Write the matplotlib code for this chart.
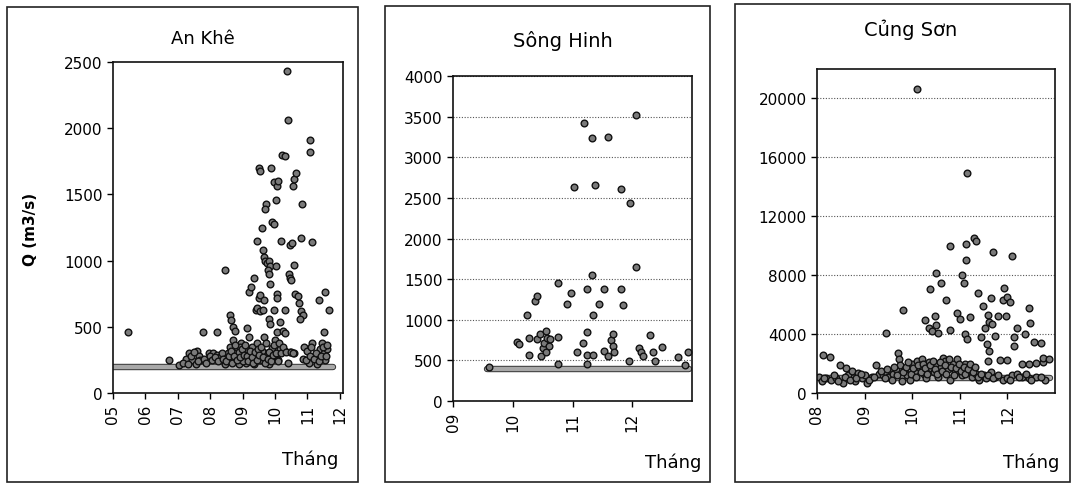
import numpy as np
import matplotlib
matplotlib.use("Agg")
from matplotlib import pyplot as plt
from matplotlib.patches import Rectangle
import matplotlib.patheffects as pe

plt.rcParams['font.family'] = ['DejaVu Sans']

# An Khe: (month, Q)
ankhe_month = [5.45, 6.72, 7.05, 7.78, 8.22, 8.45,
               10.38, 10.40, 11.07, 11.07, 10.22, 10.30,
               9.50, 9.53, 9.88, 9.98, 10.05, 10.08,
               10.55, 10.60, 10.65, 9.72, 9.70, 10.02, 10.82,
               9.92, 9.98, 9.60, 9.45, 10.20, 10.45, 10.52, 10.80, 11.15,
               9.62, 9.65, 9.70, 9.75, 9.80, 9.85, 9.78, 9.80, 10.02, 10.60,
               10.42, 10.45, 10.50, 9.35, 9.85, 9.20, 9.25, 9.50, 9.55, 9.65, 10.05, 10.05, 10.62, 10.70,
               9.40, 9.45, 9.55, 9.62, 9.98, 10.30, 10.75, 10.80, 10.85, 10.78, 11.35, 11.55, 11.68,
               8.62, 8.65, 8.70, 8.78, 9.15, 9.80, 9.85, 10.15, 10.05, 10.25, 10.30, 11.52,
               7.25, 7.35, 7.45, 7.60, 7.65, 7.70, 7.55, 7.95, 8.10, 8.20, 8.30, 8.45, 8.55, 8.60,
               8.65, 8.70, 8.80, 8.85, 8.90, 8.95, 9.00, 9.05, 9.10, 9.20, 9.30, 9.40, 9.45, 9.55,
               9.65, 9.75, 9.80, 9.90, 10.00, 10.05, 10.15, 10.30, 10.45, 10.60, 10.85, 10.90, 11.00,
               11.05, 11.15, 11.25, 11.30, 11.40, 11.45, 11.50, 11.55, 11.60,
               8.75, 8.82, 8.92, 9.02, 9.12, 9.35, 9.60, 9.85, 10.10, 10.40, 11.10, 11.35,
               7.15, 7.30, 7.40, 7.50, 7.62, 7.80, 7.88, 8.00, 8.05, 8.15, 8.25, 8.35, 8.40, 8.50,
               8.58, 8.63, 8.68, 8.72, 8.78, 8.83, 8.88, 8.93, 8.98, 9.03, 9.08, 9.13, 9.18, 9.23,
               9.28, 9.33, 9.38, 9.43, 9.48, 9.52, 9.58, 9.63, 9.68, 9.72, 9.78, 9.83, 9.88, 9.93,
               9.97, 10.02, 10.08, 10.12, 10.20, 10.25, 10.35, 10.50, 10.55, 10.95, 11.08, 11.20,
               11.28, 11.35, 11.42, 11.48, 11.58, 11.62]
ankhe_q = [460, 250, 210, 460, 460, 930,
           2430, 2060, 1910, 1820, 1800, 1790,
           1700, 1680, 1700, 1590, 1560, 1600,
           1560, 1620, 1660, 1430, 1390, 1460, 1430,
           1290, 1280, 1250, 1150, 1150, 1120, 1130, 1170, 1140,
           1080, 1030, 1000, 980, 1000, 960, 930, 900, 960, 970,
           900, 870, 850, 870, 820, 760, 800, 720, 740, 700, 750, 720, 750, 730,
           630, 640, 620, 630, 630, 630, 680, 620, 590, 560, 700, 760, 630,
           590, 550, 500, 470, 490, 560, 520, 540, 460, 470, 450, 460,
           260, 300, 250, 320, 280, 250, 220, 300, 300, 290, 270, 220, 300, 350,
           250, 400, 330, 290, 220, 380, 260, 310, 230, 420, 350, 280, 380, 250,
           420, 300, 220, 340, 400, 260, 330, 320, 310, 300, 260, 350, 320,
           230, 380, 270, 220, 330, 380, 300, 250, 330,
           300, 260, 350, 240, 330, 220, 320, 270, 250, 230, 350, 260,
           230, 220, 280, 310, 240, 260, 230, 280, 250, 270, 240, 300, 260, 240,
           280, 320, 230, 280, 360, 250, 310, 270, 330, 290, 360, 280, 240, 320,
           270, 230, 310, 250, 330, 290, 350, 270, 230, 380, 260, 310, 240, 290,
           360, 300, 240, 380, 300, 350, 310, 310, 300, 250, 280, 260,
           300, 240, 280, 350, 280, 360]
ankhe_base = 200

# Song Hinh: (month, Q)
songhinh_month = [9.60, 10.07, 10.10, 10.24, 10.27, 10.27, 10.38, 10.40, 10.40, 10.45,
                  10.48, 10.50, 10.52, 10.55, 10.55, 10.58, 10.60, 10.62, 10.76, 10.76,
                  10.76, 10.91, 10.98, 11.03, 11.08, 11.17, 11.20, 11.25, 11.25, 11.25,
                  11.25, 11.32, 11.32, 11.35, 11.37, 11.35, 11.45, 11.52, 11.53, 11.59,
                  11.60, 11.65, 11.67, 11.68, 11.70, 11.82, 11.82, 11.84, 11.94, 11.96,
                  12.06, 12.06, 12.12, 12.15, 12.18, 12.30, 12.35, 12.38, 12.50, 12.76,
                  12.88, 12.93]
songhinh_q = [420, 730, 700, 1060, 770, 570, 1230, 1290, 760, 820,
              560, 650, 720, 860, 600, 780, 680, 760, 1450, 790,
              450, 1200, 1330, 2630, 600, 710, 3420, 1380, 850, 570,
              450, 3235, 1550, 1060, 2660, 570, 1200, 1380, 620, 3250,
              560, 750, 820, 680, 600, 2610, 1380, 1180, 490, 2440,
              3520, 1650, 650, 600, 550, 810, 600, 490, 670, 540,
              440, 600]
songhinh_base = 400

# Cung Son: (month, Q)
cungson_month = [10.10, 11.15, 10.80, 11.14, 11.30, 11.35, 11.70, 12.10, 11.14,
                 10.50, 11.05, 11.08, 10.60, 10.38, 10.72, 9.81, 11.38, 11.65, 11.92,
                 11.90, 12.00, 12.05, 12.45, 11.48, 9.45, 10.27, 10.48, 10.35, 10.42,
                 10.50, 10.55, 10.80, 10.95, 11.00, 11.22, 11.12, 11.15, 11.60, 11.62,
                 11.80, 11.97, 11.45, 11.52, 11.58, 11.68, 11.75, 11.62, 11.60, 11.85,
                 12.00, 12.20, 12.37, 12.48, 12.15, 12.15, 12.55, 12.70, 12.30, 12.45,
                 12.60, 12.75, 12.75,
                 8.05, 8.10, 8.13, 8.20, 8.27, 8.30, 8.40, 8.48, 8.55, 8.62,
                 8.65, 8.73, 8.80, 8.87, 8.95, 9.00, 9.05, 9.15, 9.25, 9.30,
                 9.38, 9.45, 9.50, 9.55, 9.60, 9.65, 9.70, 9.72, 9.75, 9.78,
                 9.85, 9.90, 9.95, 10.00, 10.05, 10.10, 10.15, 10.20, 10.25, 10.30,
                 10.35, 10.40, 10.45, 10.50, 10.55, 10.60, 10.65, 10.70, 10.75, 10.80,
                 10.85, 10.90, 10.95, 11.00, 11.05, 11.10, 11.15, 11.20, 11.25, 11.30,
                 11.35, 11.40, 11.50, 11.55, 11.65, 11.75, 11.90, 12.00, 12.10, 12.20,
                 12.30, 12.45, 12.60, 12.80, 12.88,
                 8.15, 8.35, 8.45, 8.58, 8.70, 8.83, 8.92, 9.10, 9.20, 9.35,
                 9.42, 9.48, 9.58, 9.62, 9.68, 9.80, 9.88, 9.92, 9.98, 10.02,
                 10.08, 10.12, 10.18, 10.22, 10.28, 10.32, 10.38, 10.43, 10.48, 10.52,
                 10.58, 10.62, 10.68, 10.72, 10.78, 10.82, 10.88, 10.92, 10.98, 11.02,
                 11.08, 11.12, 11.18, 11.22, 11.28, 11.32, 11.38, 11.45, 11.60, 11.70,
                 11.80, 12.05, 12.25, 12.40, 12.50, 12.70]
cungson_q = [20650, 14940, 9960, 10090, 10520, 10300, 9550, 9280, 9000,
             8120, 8000, 7500, 7500, 7090, 6300, 5660, 6820, 6480, 7110,
             6300, 6500, 6200, 5800, 5930, 4090, 4980, 5250, 4400, 4200,
             4600, 4100, 4250, 5400, 5000, 5180, 3980, 3680, 5300, 4800,
             5250, 5250, 3800, 4400, 3300, 4700, 3900, 2880, 2180, 2250,
             2250, 4430, 4000, 4750, 3800, 3200, 3460, 3390, 1950, 2000,
             2050, 2100, 2400,
             1100, 800, 2600, 1050, 2420, 900, 1000, 1930, 700, 1700,
             1200, 1470, 800, 1360, 1000, 1200, 700, 1100, 1900, 1300,
             1200, 1400, 1100, 1500, 1300, 1600, 2700, 2300, 1900, 800,
             1600, 1200, 900, 2000, 1500, 2200, 1800, 2300, 1300, 1000,
             2100, 1700, 1400, 2000, 1100, 1800, 2400, 2200, 1600, 900,
             2000, 1400, 2300, 1700, 1200, 2000, 1500, 1800, 1100, 1600,
             1300, 900, 1200, 1000, 1400, 1100, 900, 1000, 1200, 1300,
             1100, 1000, 1100, 900, 2300,
             1000, 1200, 800, 1100, 900, 1000, 1300, 900, 1100, 1500,
             1000, 1600, 900, 1800, 1200, 1400, 1800, 2100, 1300, 1700,
             1100, 1900, 1400, 2000, 1700, 1300, 1900, 2200, 1600, 1300,
             2100, 1500, 1900, 1300, 2300, 1800, 1200, 1700, 2000, 1500,
             1800, 1300, 1600, 2000, 1400, 1800, 1100, 1300, 1200, 1000,
             1200, 900, 1100, 1300, 900, 1100]
cungson_base = 1000

panels = [
    dict(title='An Khê', month=ankhe_month, q=ankhe_q, base=ankhe_base, base_x=(5.0, 11.8),
         xlim=(5, 12.1), ylim=(0, 2500), yticks=[0, 500, 1000, 1500, 2000, 2500],
         xticks=[5, 6, 7, 8, 9, 10, 11, 12], xlabels=['05', '06', '07', '08', '09', '10', '11', '12'],
         grid=False, ax_rect=[0.1054, 0.1876, 0.2146, 0.6825],
         frame=(0.0065, 0.004, 0.3275, 0.9795), title_xy=(0.189, 0.92), title_size=13,
         xlab_xy=(0.289, 0.052)),
    dict(title='Sông Hinh', month=songhinh_month, q=songhinh_q, base=songhinh_base, base_x=(9.57, 12.95),
         xlim=(9, 13), ylim=(0, 4000), yticks=[0, 500, 1000, 1500, 2000, 2500, 3000, 3500, 4000],
         xticks=[9, 10, 11, 12], xlabels=['09', '10', '11', '12'],
         grid=True, ax_rect=[0.4226, 0.1711, 0.2229, 0.670],
         frame=(0.359, 0.004, 0.303, 0.9815), title_xy=(0.525, 0.915), title_size=14,
         xlab_xy=(0.628, 0.045)),
    dict(title='Củng Sơn', month=cungson_month, q=cungson_q, base=cungson_base, base_x=(8.0, 12.9),
         xlim=(8, 13), ylim=(0, 22000), yticks=[0, 4000, 8000, 12000, 16000, 20000],
         xticks=[8, 9, 10, 11, 12], xlabels=['08', '09', '10', '11', '12'],
         grid=True, ax_rect=[0.7621, 0.1876, 0.222, 0.668],
         frame=(0.6856, 0.004, 0.3124, 0.9855), title_xy=(0.849, 0.938), title_size=14,
         xlab_xy=(0.962, 0.045)),
]

fig = plt.figure(figsize=(10.72, 4.85), dpi=100)

for p in panels:
    fx, fy, fw, fh = p['frame']
    fig.patches.append(Rectangle((fx, fy), fw, fh, transform=fig.transFigure,
                                 fill=False, edgecolor='#222222', linewidth=1.2))
    ax = fig.add_axes(p['ax_rect'])
    if p['grid']:
        ax.yaxis.grid(True, linestyle=(0, (1, 1.5)), color='#555555', linewidth=0.8)
        ax.set_axisbelow(True)
    ax.plot(p['base_x'], [p['base'], p['base']], color='#a8a8a8', linewidth=3.2,
            solid_capstyle='round',
            path_effects=[pe.Stroke(linewidth=4.6, foreground='#333333'), pe.Normal()])
    ax.plot(p['month'], p['q'], linestyle='none', marker='o', markersize=4.8,
            markerfacecolor='#7a7a7a', markeredgecolor='#111111', markeredgewidth=1.0)
    ax.set_xlim(*p['xlim'])
    ax.set_ylim(*p['ylim'])
    ax.set_yticks(p['yticks'])
    ax.set_xticks(p['xticks'])
    ax.set_xticklabels(p['xlabels'], rotation=90)
    ax.tick_params(direction='out', length=4, width=1, labelsize=11)
    for s in ax.spines.values():
        s.set_linewidth(1.2)
        s.set_color('#111111')
    fig.text(p['title_xy'][0], p['title_xy'][1], p['title'], ha='center', va='center',
             fontsize=p['title_size'])
    fig.text(p['xlab_xy'][0], p['xlab_xy'][1], 'Tháng', ha='center', va='center', fontsize=13)

fig.text(0.028, 0.526, 'Q (m3/s)', rotation=90, ha='center', va='center',
         fontsize=11, fontweight='bold')

fig.savefig('out.png', dpi=100)
